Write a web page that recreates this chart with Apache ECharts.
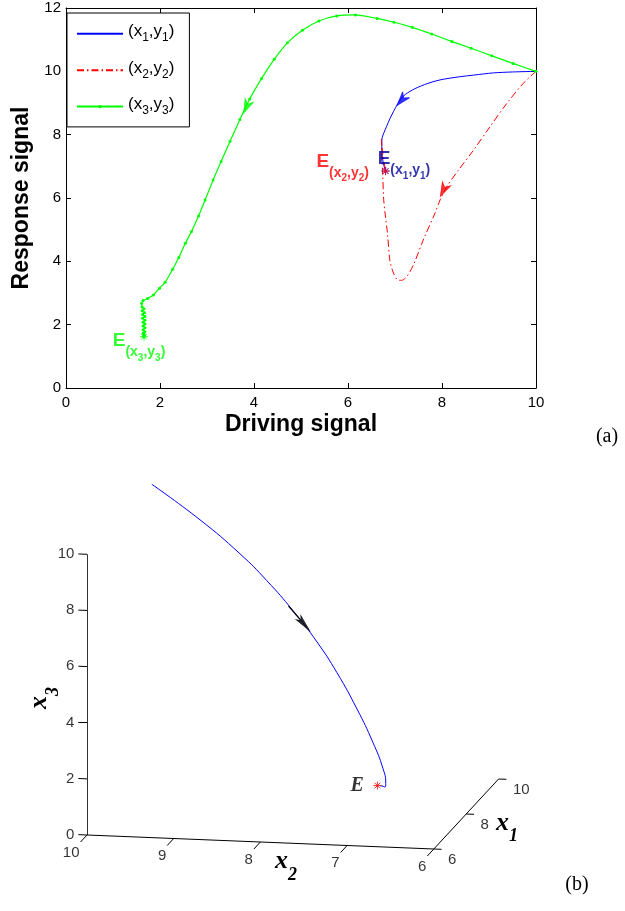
<!DOCTYPE html>
<html>
<head>
<meta charset="utf-8">
<title>Driving / response trajectories</title>
<script src="https://cdn.jsdelivr.net/npm/echarts@6/dist/echarts.min.js"></script>
<style>
  html, body { margin: 0; padding: 0; background: #fff; }
  #chart { width: 625px; height: 911px; }
</style>
</head>
<body>
<div id="chart"></div>
<script>
// ---------- panel (a): trajectories in the (driving, response) plane ----------
const seriesNames = ['(x1,y1)', '(x2,y2)', '(x3,y3)'];

// [driving, response]
const traj1 = [
  [10, 10], [9.5, 9.98], [9.09, 9.95], [8.67, 9.88], [8.38, 9.83], [7.96, 9.73],
  [7.7, 9.62], [7.42, 9.45], [7.22, 9.27], [7.11, 9.1], [6.93, 8.62], [6.79, 8.15],
  [6.72, 7.83], [6.72, 7.5], [6.75, 7.1], [6.8, 6.85]
];
const traj2 = [
  [10, 10], [9.73, 9.62], [9.38, 8.99], [9.02, 8.25], [8.67, 7.51], [8.35, 6.88],
  [8.1, 6.36], [7.96, 5.94], [7.85, 5.52], [7.6, 4.67], [7.39, 3.88], [7.25, 3.52],
  [7.14, 3.4], [7.04, 3.43], [6.95, 3.7], [6.89, 4.04], [6.84, 4.88], [6.79, 5.5],
  [6.76, 5.94], [6.74, 6.67], [6.72, 7.3], [6.71, 7.85], [6.74, 7.4], [6.8, 6.85]
];
const traj3 = [
  [10, 10], [9.51, 10.25], [9.06, 10.49], [8.62, 10.73], [8.21, 10.94], [7.78, 11.18],
  [7.37, 11.39], [6.98, 11.55], [6.62, 11.67], [6.16, 11.78], [5.76, 11.75], [5.38, 11.59],
  [5.03, 11.3], [4.71, 10.9], [4.43, 10.38], [4.16, 9.77], [3.91, 9.13], [3.7, 8.48],
  [3.49, 7.79], [3.3, 7.15], [3.13, 6.57], [2.96, 5.94], [2.82, 5.43], [2.67, 4.94],
  [2.54, 4.57], [2.4, 4.12], [2.27, 3.75], [2.11, 3.34], [1.99, 3.15], [1.86, 2.94],
  [1.74, 2.83], [1.64, 2.76], [1.61, 2.68], [1.62, 2.56],
  // dense oscillation while settling onto E(x3,y3)
  [1.66, 2.5], [1.62, 2.44], [1.67, 2.38], [1.63, 2.32], [1.68, 2.26], [1.63, 2.2],
  [1.68, 2.14], [1.64, 2.08], [1.68, 2.02], [1.64, 1.96], [1.68, 1.9], [1.64, 1.84],
  [1.68, 1.78], [1.64, 1.73], [1.67, 1.68], [1.65, 1.64], [1.66, 1.62]
];
const equilibria = [[6.8, 6.85], [6.8, 6.85], [1.66, 1.62]];
// direction arrows: [tail, head centre] on each curve
const arrowBlue = [[7.25, 9.28], [7.14, 9.09]];
const arrowRed = [[8.1, 6.46], [8.03, 6.25]];
const arrowGreen = [[3.92, 9.15], [3.84, 8.88]];

// ---------- panel (b): drive system (x1, x2, x3) ----------
const driveX1 = [10, 9.0, 8.4, 8.0, 7.7, 7.45, 7.25, 7.08, 6.95, 6.85, 6.78, 6.74, 6.76, 6.78];
const driveX2 = [10, 9.257, 8.684, 8.301, 7.942, 7.618, 7.35, 7.088, 6.879, 6.745, 6.7, 6.7, 6.74, 6.77];
const driveX3 = [10, 9.45, 8.686, 8.03, 7.19, 6.27, 5.33, 4.18, 3.09, 2.245, 1.76, 1.66, 1.68, 1.67];
const driveE = [6.8, 6.8, 1.66];
const driveArrow = [[7.8, 8.06, 7.45], [7.65, 7.86, 6.95]];
const x1Ticks = [6, 8, 10];
const x2Ticks = [10, 9, 8, 7, 6];
const x3Ticks = [0, 2, 4, 6, 8, 10];

const FONT = '"Liberation Sans", Arial, Helvetica, sans-serif';
const SERIF = '"Liberation Serif", "Times New Roman", serif';

// oblique view used for panel (b): pixel size of one unit along each axis
const view = { ox: 87, oy: 835, sx: 86.7, sy: 28.07, e1u: 16.2, e1v: 17.5, tilt: 3.5 };
function proj(x1, x2, x3) {
  const d2 = 10 - x2, d1 = x1 - 6;
  return [d2 + d1 * view.e1u / view.sx, x3 + d1 * view.e1v / view.sy - d2 * view.tilt / view.sy];
}

// "(x1,y1)" -> rich text with the digits as subscripts
function subRich(str, base, sub) {
  return str.split(/(\d)/).filter(s => s !== '').map(s => /\d/.test(s) ? `{${sub}|${s}}` : `{${base}|${s}}`).join('');
}

const eRich = {
  E: { fontSize: 19, height: 19, fontWeight: 'bold', fontFamily: FONT, verticalAlign: 'top', padding: [0, 0, 12.5, 0] },
  a: { fontSize: 14, height: 14, fontWeight: 'bold', fontFamily: FONT, verticalAlign: 'bottom', padding: [0, 0, 3.5, 0] },
  b: { fontSize: 10, height: 10, fontWeight: 'bold', fontFamily: FONT, verticalAlign: 'bottom' }
};
function eLabel(name, color, align, offset) {
  return {
    show: true, position: 'inside', align: align, verticalAlign: 'middle', offset: offset,
    color: color, formatter: '{E|E}' + subRich(name, 'a', 'b'), rich: eRich
  };
}

const starPath = 'path://M5,0L5,10M0,5L10,5M1.5,1.5L8.5,8.5M1.5,8.5L8.5,1.5';
const headPath = 'path://M0,0L12,5L0,10L3.5,5Z';
const quiverPath = 'path://M0,6.2L17,6.2L17,7.8L0,7.8Z M15,0L32,7L15,14L19,7Z';

const chart = echarts.init(document.getElementById('chart'), null, { renderer: 'canvas' });

const axisBase = {
  type: 'value', splitLine: { show: false },
  axisLine: { show: true, onZero: false, lineStyle: { color: '#000', width: 1 } },
  axisTick: { show: true, inside: true, length: 5, lineStyle: { color: '#000' } }
};

// panel (b) frame, ticks and labels
const frameSegs = [
  { coords: [proj(6, 10, 0), proj(6, 10, 10)], lineStyle: { color: '#333' } },
  { coords: [proj(6, 10, 0), proj(6, 6, 0)] },
  { coords: [proj(6, 6, 0), proj(10, 6, 0)] }
];
x3Ticks.forEach(t => frameSegs.push({ coords: [proj(6, 10, t), proj(6, 10.1, t)] }));
x2Ticks.forEach(t => frameSegs.push({ coords: [proj(6, t, 0), proj(5.6, t, 0)] }));
x1Ticks.forEach(t => frameSegs.push({ coords: [proj(t, 6, 0), proj(t, 5.91, 0)] }));

const tickLabels = [];
x3Ticks.forEach(t => tickLabels.push({ name: String(t), value: proj(6, 10.1, t),
  label: { align: 'right', verticalAlign: 'middle', offset: [-4, 0] } }));
x2Ticks.forEach(t => tickLabels.push({ name: String(t), value: proj(5.6, t, 0),
  label: { align: 'right', verticalAlign: 'top', offset: [-1, 3] } }));
x1Ticks.forEach(t => tickLabels.push({ name: String(t), value: proj(t, 5.91, 0),
  label: { align: 'left', verticalAlign: 'middle', offset: [6.5, 11] } }));

const drivePath = driveX1.map((v, i) => proj(v, driveX2[i], driveX3[i]));

const arrowsA = [
  { pts: arrowBlue, color: '#0000ff' },
  { pts: arrowRed, color: '#ff0000' },
  { pts: arrowGreen, color: '#00ff00' }
];

const titleRich = {
  v: { fontSize: 26, height: 26, fontWeight: 'bold', fontStyle: 'italic', fontFamily: SERIF, verticalAlign: 'top', padding: [0, 0, 9.7, 0] },
  s: { fontSize: 18, height: 18, fontWeight: 'bold', fontStyle: 'italic', fontFamily: SERIF, verticalAlign: 'bottom' }
};

const option = {
  animation: false,
  backgroundColor: '#fff',
  grid: [
    { left: 66, top: 8, width: 470, height: 380, containLabel: false, outerBoundsMode: 'none' },
    { left: view.ox - view.sx, top: view.oy - 13.5 * view.sy, width: 7 * view.sx, height: 16 * view.sy,
      containLabel: false, outerBoundsMode: 'none' }
  ],
  xAxis: [
    Object.assign({}, axisBase, {
      gridIndex: 0, position: 'bottom', min: 0, max: 10, interval: 2,
      axisLabel: { color: '#000', fontSize: 15, fontFamily: FONT, margin: 7 },
      name: 'Driving signal', nameLocation: 'middle', nameGap: 25,
      nameTextStyle: { color: '#000', fontSize: 23, fontWeight: 'bold', fontFamily: FONT }
    }),
    Object.assign({}, axisBase, { gridIndex: 0, position: 'top', min: 0, max: 10, interval: 2, axisLabel: { show: false } }),
    { type: 'value', gridIndex: 1, min: -1, max: 6, show: false }
  ],
  yAxis: [
    Object.assign({}, axisBase, {
      gridIndex: 0, position: 'left', min: 0, max: 12, interval: 2,
      axisLabel: { color: '#000', fontSize: 15, fontFamily: FONT, margin: 5 },
      name: 'Response signal', nameLocation: 'middle', nameGap: 30, nameRotate: 90,
      nameTextStyle: { color: '#000', fontSize: 23, fontWeight: 'bold', fontFamily: FONT }
    }),
    Object.assign({}, axisBase, { gridIndex: 0, position: 'right', min: 0, max: 12, interval: 2, axisLabel: { show: false } }),
    { type: 'value', gridIndex: 1, min: -2.5, max: 13.5, show: false }
  ],
  legend: {
    data: [
      { name: seriesNames[0], itemStyle: { opacity: 0 } },
      { name: seriesNames[1], itemStyle: { opacity: 0 } },
      { name: seriesNames[2] }
    ],
    orient: 'vertical', left: 67, top: 13,
    padding: [10, 15, 10, 9], itemGap: 15.3, itemWidth: 46, itemHeight: 4,
    backgroundColor: '#fff', borderColor: '#000', borderWidth: 1, borderRadius: 0,
    selectedMode: false,
    formatter: name => subRich(name, 'n', 's'),
    textStyle: {
      color: '#000', fontFamily: FONT,
      rich: {
        n: { fontSize: 17, height: 17, fontFamily: FONT, verticalAlign: 'top', padding: [0, 0, 4.5, 0] },
        s: { fontSize: 12, height: 12, fontFamily: FONT, verticalAlign: 'bottom', padding: [0, 0, 0.4, 0] }
      }
    }
  },
  series: [
    {
      name: seriesNames[0], type: 'line', xAxisIndex: 0, yAxisIndex: 0, data: traj1,
      symbol: 'none', smooth: 0.3, itemStyle: { color: '#0000ff' },
      lineStyle: { color: '#0000ff', width: 1 }
    },
    {
      name: seriesNames[1], type: 'line', xAxisIndex: 0, yAxisIndex: 0, data: traj2,
      symbol: 'none', smooth: 0.3, itemStyle: { color: '#ff0000' },
      lineStyle: { color: '#ff0000', width: 1, type: [7, 3, 1.5, 3] }
    },
    {
      name: seriesNames[2], type: 'line', xAxisIndex: 0, yAxisIndex: 0, data: traj3,
      symbol: 'circle', symbolSize: 3, showSymbol: true, showAllSymbol: true, smooth: 0.2,
      itemStyle: { color: '#00ff00' }, lineStyle: { color: '#00ff00', width: 1.2 }
    },
    {
      name: 'equilibria', type: 'scatter', xAxisIndex: 0, yAxisIndex: 0, z: 5,
      symbol: starPath, symbolSize: 8,
      data: [
        { value: equilibria[0], itemStyle: { color: 'transparent', borderColor: '#0000ff', borderWidth: 1 },
          label: eLabel(seriesNames[0], '#00009c', 'left', [-7.9, -5.9]) },
        { value: equilibria[1], itemStyle: { color: 'transparent', borderColor: '#ff0000', borderWidth: 1 },
          label: eLabel(seriesNames[1], '#ff0000', 'right', [-16.6, -3.2]) },
        { value: equilibria[2], itemStyle: { color: 'transparent', borderColor: '#00ff00', borderWidth: 1 },
          label: eLabel(seriesNames[2], '#00ff00', 'left', [-31.3, 10.3]) }
      ]
    },
    {
      id: 'arrowsA', name: 'arrowsA', type: 'scatter', xAxisIndex: 0, yAxisIndex: 0, z: 6,
      symbol: headPath, symbolSize: [14, 11], symbolKeepAspect: true,
      data: arrowsA.map(a => ({ value: a.pts[1], itemStyle: { color: a.color, borderColor: a.color, borderWidth: 0.8 } }))
    },
    // ---- panel (b)
    {
      name: 'frame', type: 'lines', coordinateSystem: 'cartesian2d', xAxisIndex: 2, yAxisIndex: 2,
      silent: true, lineStyle: { color: '#000', width: 1, opacity: 1, curveness: 0 }, data: frameSegs
    },
    {
      name: 'tickLabels', type: 'scatter', xAxisIndex: 2, yAxisIndex: 2, symbolSize: 0, silent: true,
      itemStyle: { color: 'transparent' },
      label: { show: true, position: 'inside', formatter: '{b}', color: '#000', fontSize: 15, fontFamily: FONT },
      data: tickLabels
    },
    {
      name: 'drive', type: 'line', xAxisIndex: 2, yAxisIndex: 2, data: drivePath,
      symbol: 'none', smooth: 0.5, lineStyle: { color: '#0000ff', width: 1 }
    },
    {
      name: 'driveE', type: 'scatter', xAxisIndex: 2, yAxisIndex: 2, z: 5,
      symbol: starPath, symbolSize: 8,
      itemStyle: { color: 'transparent', borderColor: '#ff0000', borderWidth: 1 },
      label: { show: true, position: 'left', distance: 9, formatter: 'E', color: '#000',
        fontSize: 20, fontWeight: 'bold', fontStyle: 'italic', fontFamily: SERIF },
      data: [proj(driveE[0], driveE[1], driveE[2])]
    },
    {
      id: 'arrowB', name: 'arrowB', type: 'scatter', xAxisIndex: 2, yAxisIndex: 2, z: 6,
      symbol: quiverPath, symbolSize: [32, 14], symbolKeepAspect: true,
      itemStyle: { color: '#000', borderColor: '#000', borderWidth: 1 },
      data: [proj(driveArrow[1][0], driveArrow[1][1], driveArrow[1][2])]
    }
  ],
  graphic: [
    { type: 'text', x: 607, y: 437, style: { text: '(a)', fontSize: 20, fontFamily: SERIF, fill: '#000', align: 'center', verticalAlign: 'middle' } },
    { type: 'text', x: 577, y: 885, style: { text: '(b)', fontSize: 20, fontFamily: SERIF, fill: '#000', align: 'center', verticalAlign: 'middle' } },
    { type: 'text', x: 275, y: 848.3, style: { text: '{v|x}{s|2}', rich: titleRich, fill: '#000', align: 'left', verticalAlign: 'top' } },
    { type: 'text', x: 496, y: 809.8, style: { text: '{v|x}{s|1}', rich: titleRich, fill: '#000', align: 'left', verticalAlign: 'top' } },
    { type: 'text', x: 26.7, y: 709, rotation: Math.PI / 2, style: { text: '{v|x}{s|3}', rich: titleRich, fill: '#000', align: 'left', verticalAlign: 'top' } }
  ]
};

chart.setOption(option);

// turn the arrow heads along their curves (screen-space direction)
function screenAngle(gridIndex, tail, tip) {
  const a = chart.convertToPixel({ gridIndex: gridIndex }, tail);
  const b = chart.convertToPixel({ gridIndex: gridIndex }, tip);
  return Math.atan2(a[1] - b[1], b[0] - a[0]) * 180 / Math.PI;
}
const tailB = proj(driveArrow[0][0], driveArrow[0][1], driveArrow[0][2]);
const tipB = proj(driveArrow[1][0], driveArrow[1][1], driveArrow[1][2]);
chart.setOption({
  series: [
    { id: 'arrowsA', data: arrowsA.map(a => ({ value: a.pts[1], symbolRotate: screenAngle(0, a.pts[0], a.pts[1]),
      itemStyle: { color: a.color, borderColor: a.color, borderWidth: 0.8 } })) },
    { id: 'arrowB', data: [{ value: tipB, symbolRotate: screenAngle(1, tailB, tipB) }] }
  ]
});
</script>
</body>
</html>
